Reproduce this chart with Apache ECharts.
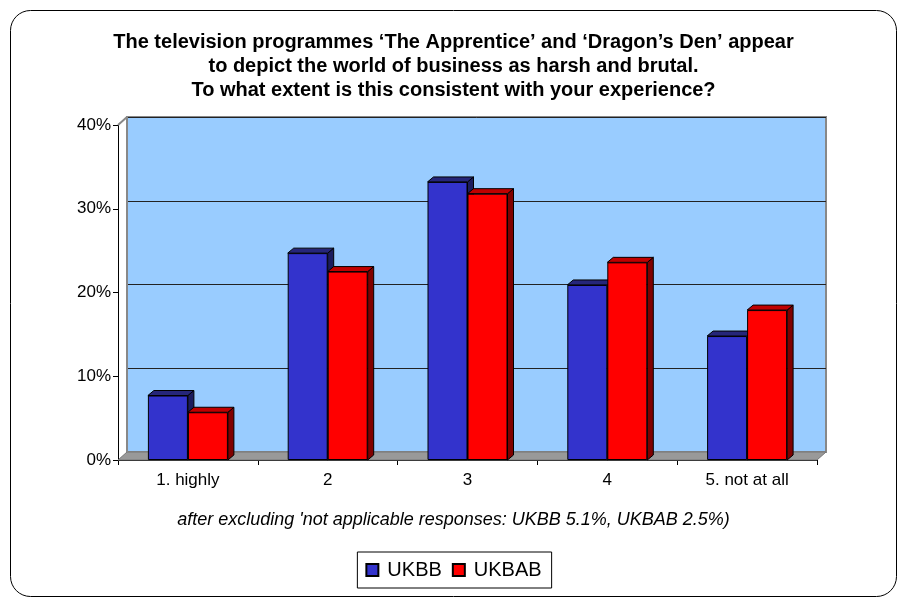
<!DOCTYPE html>
<html>
<head>
<meta charset="utf-8">
<script src="https://cdn.jsdelivr.net/npm/echarts@6/dist/echarts.min.js"></script>
<style>
  html, body { margin: 0; padding: 0; background: #fff; }
  #chart { width: 907px; height: 607px; }
</style>
</head>
<body>
<div id="chart"></div>
<script>
// chart values
const categories = ['1. highly', '2', '3', '4', '5. not at all']
const ukbb = [7.7, 24.7, 33.2, 20.9, 14.8]
const ukbab = [5.7, 22.5, 31.8, 23.6, 17.9]
const yTicks = [0, 10, 20, 30, 40]

const titleText = 'The television programmes \u2018The Apprentice\u2019 and \u2018Dragon\u2019s Den\u2019 appear\nto depict the world of business as harsh and brutal.\nTo what extent is this consistent with your experience?'
const noteText = 'after excluding \'not applicable responses: UKBB 5.1%, UKBAB 2.5%)'

// front plane and the 3d depth offset
const front = { left: 118, right: 90, top: 125, bottom: 147 }
const depthX = 9
const depthY = 8
const barW = 40
const barDX = 6
const barDY = 5

// draws the top and right side of a bar (front face comes from the bar series)
function sideFaces(side, topColor, sideColor) {
    return function (params, api) {
        const top = api.coord([api.value(0), api.value(1)])
        const base = api.coord([api.value(0), 0])
        const xl = side < 0 ? top[0] - barW : top[0]
        const xr = xl + barW
        const yt = top[1]
        const yb = base[1]
        return {
            type: 'group',
            children: [
                {
                    type: 'polygon',
                    shape: { points: [[xr, yt], [xr + barDX, yt - barDY], [xr + barDX, yb - barDY], [xr, yb]] },
                    style: { fill: sideColor, stroke: '#000', lineWidth: 1 }
                },
                {
                    type: 'polygon',
                    shape: { points: [[xl, yt], [xl + barDX, yt - barDY], [xr + barDX, yt - barDY], [xr, yt]] },
                    style: { fill: topColor, stroke: '#000', lineWidth: 1 }
                }
            ]
        }
    }
}

const chart = echarts.init(document.getElementById('chart'), null, { renderer: 'canvas' })

const W = 907, H = 607
const fx0 = front.left, fx1 = W - front.right
const fy0 = front.top, fy1 = H - front.bottom

let option = {
    animation: false,
    backgroundColor: '#fff',
    textStyle: { fontFamily: 'Liberation Sans, Arial, sans-serif' },
    title: [
        {
            text: titleText,
            left: 'center',
            top: 25,
            textStyle: { fontSize: 20, fontWeight: 'bold', color: '#000', lineHeight: 24 }
        },
        {
            text: noteText,
            left: 'center',
            top: 506,
            textStyle: { fontSize: 18, fontStyle: 'italic', fontWeight: 'normal', color: '#000' }
        }
    ],
    legend: {
        data: ['UKBB', 'UKBAB'],
        left: 'center',
        top: 552,
        padding: [8, 10, 8, 8],
        borderColor: '#000',
        borderWidth: 1,
        itemGap: 10,
        itemWidth: 12,
        itemHeight: 12,
        icon: 'rect',
        textStyle: { fontSize: 20, color: '#000', padding: [0, 0, 0, 4] }
    },
    grid: [
        {
            // back wall
            left: front.left + depthX,
            right: front.right - depthX,
            top: front.top - depthY,
            bottom: front.bottom + depthY,
            show: true,
            backgroundColor: '#99CCFF',
            borderColor: '#888',
            borderWidth: 2
        },
        {
            left: front.left,
            right: front.right,
            top: front.top,
            bottom: front.bottom
        }
    ],
    xAxis: [
        {
            type: 'category', gridIndex: 0, data: categories,
            axisLine: { show: false }, axisTick: { show: false }, axisLabel: { show: false }
        },
        {
            type: 'category', gridIndex: 1, data: categories,
            axisLine: { lineStyle: { color: '#000', width: 1 } },
            axisTick: { show: true, length: 5, lineStyle: { color: '#000' } },
            axisLabel: { fontSize: 17, color: '#000', margin: 12 }
        }
    ],
    yAxis: [
        {
            type: 'value', gridIndex: 0, min: 0, max: 40, interval: 10,
            axisLine: { show: false }, axisTick: { show: false }, axisLabel: { show: false },
            splitLine: { lineStyle: { color: '#222', width: 1 } }
        },
        {
            type: 'value', gridIndex: 1, min: yTicks[0], max: yTicks[yTicks.length - 1], interval: 10,
            axisLine: { show: true, lineStyle: { color: '#000', width: 1 } },
            axisTick: { show: true, length: 5, lineStyle: { color: '#000' } },
            axisLabel: { fontSize: 17, color: '#000', margin: 7, formatter: '{value}%' },
            splitLine: { show: false }
        }
    ],
    graphic: [
        {
            // floor
            type: 'polygon', z: 1, silent: true,
            shape: { points: [[fx0, fy1], [fx0 + depthX, fy1 - depthY], [fx1 + depthX, fy1 - depthY], [fx1, fy1]] },
            style: { fill: '#999', stroke: '#777', lineWidth: 1 }
        },
        {
            type: 'line', z: 1, silent: true,
            shape: { x1: fx0, y1: fy0, x2: fx0 + depthX, y2: fy0 - depthY },
            style: { stroke: '#888', lineWidth: 2 }
        },
        {
            type: 'line', z: 1, silent: true,
            shape: { x1: fx0 + depthX, y1: fy0 - depthY, x2: fx0 + depthX, y2: fy1 - depthY },
            style: { stroke: '#888', lineWidth: 2 }
        },
        {
            // outer frame
            type: 'rect', z: 0, silent: true,
            shape: { x: 10.5, y: 10.5, width: 886, height: 586, r: 20 },
            style: { fill: 'none', stroke: '#000', lineWidth: 1 }
        }
    ],
    series: [
        {
            name: 'UKBB3d', type: 'custom', xAxisIndex: 1, yAxisIndex: 1, z: 2,
            renderItem: sideFaces(-1, '#26267A', '#1C1C5E'),
            data: ukbb.map((v, i) => [i, v])
        },
        {
            name: 'UKBAB3d', type: 'custom', xAxisIndex: 1, yAxisIndex: 1, z: 2,
            renderItem: sideFaces(1, '#C00000', '#800000'),
            data: ukbab.map((v, i) => [i, v])
        },
        {
            name: 'UKBB', type: 'bar', xAxisIndex: 1, yAxisIndex: 1, z: 3,
            barWidth: barW, barGap: '0%',
            itemStyle: { color: '#3333CC', borderColor: '#000', borderWidth: 1 },
            data: ukbb
        },
        {
            name: 'UKBAB', type: 'bar', xAxisIndex: 1, yAxisIndex: 1, z: 3,
            barWidth: barW, barGap: '0%',
            itemStyle: { color: '#FF0000', borderColor: '#000', borderWidth: 1 },
            data: ukbab
        }
    ]
}

chart.setOption(option)
</script>
</body>
</html>
